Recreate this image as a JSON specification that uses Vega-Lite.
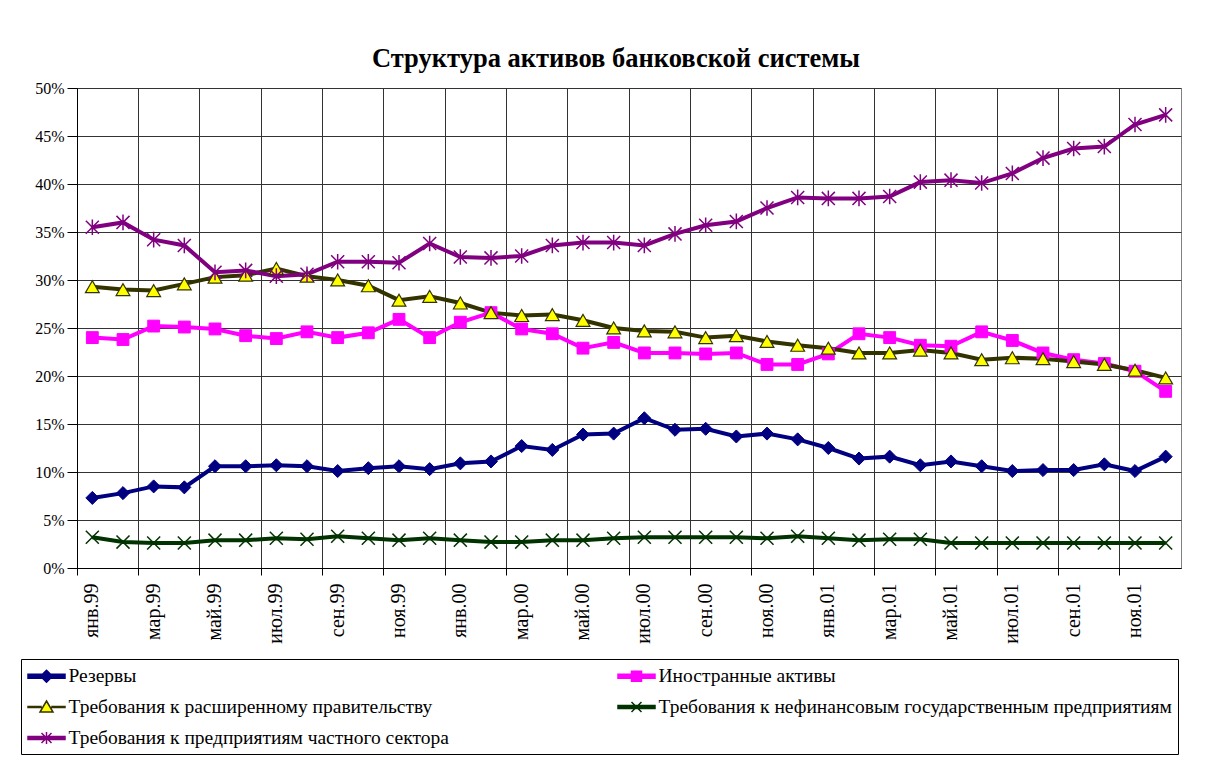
{
  "$schema": "https://vega.github.io/schema/vega-lite/v6.json",
  "width": 1104,
  "height": 480,
  "padding": {"left": 20, "top": 45, "right": 10, "bottom": 5},
  "background": "white",
  "title": {
    "text": "Структура активов банковской системы",
    "font": "Liberation Serif",
    "fontSize": 26.5,
    "fontWeight": "bold",
    "color": "black",
    "anchor": "middle",
    "frame": "group",
    "baseline": "top",
    "offset": 8,
    "dx": -13
  },
  "data": {
    "values": [
      {"m": "янв.99", "Резервы": 0.073, "Иностранные активы": 0.240, "Требования к расширенному правительству": 0.293, "Требования к нефинансовым государственным предприятиям": 0.032, "Требования к предприятиям частного сектора": 0.355},
      {"m": "фев.99", "Резервы": 0.078, "Иностранные активы": 0.238, "Требования к расширенному правительству": 0.290, "Требования к нефинансовым государственным предприятиям": 0.027, "Требования к предприятиям частного сектора": 0.360},
      {"m": "мар.99", "Резервы": 0.085, "Иностранные активы": 0.252, "Требования к расширенному правительству": 0.289, "Требования к нефинансовым государственным предприятиям": 0.026, "Требования к предприятиям частного сектора": 0.342},
      {"m": "апр.99", "Резервы": 0.084, "Иностранные активы": 0.251, "Требования к расширенному правительству": 0.296, "Требования к нефинансовым государственным предприятиям": 0.026, "Требования к предприятиям частного сектора": 0.336},
      {"m": "май.99", "Резервы": 0.106, "Иностранные активы": 0.249, "Требования к расширенному правительству": 0.303, "Требования к нефинансовым государственным предприятиям": 0.029, "Требования к предприятиям частного сектора": 0.308},
      {"m": "июн.99", "Резервы": 0.106, "Иностранные активы": 0.242, "Требования к расширенному правительству": 0.305, "Требования к нефинансовым государственным предприятиям": 0.029, "Требования к предприятиям частного сектора": 0.310},
      {"m": "июл.99", "Резервы": 0.107, "Иностранные активы": 0.239, "Требования к расширенному правительству": 0.312, "Требования к нефинансовым государственным предприятиям": 0.031, "Требования к предприятиям частного сектора": 0.304},
      {"m": "авг.99", "Резервы": 0.106, "Иностранные активы": 0.246, "Требования к расширенному правительству": 0.304, "Требования к нефинансовым государственным предприятиям": 0.030, "Требования к предприятиям частного сектора": 0.306},
      {"m": "сен.99", "Резервы": 0.101, "Иностранные активы": 0.240, "Требования к расширенному правительству": 0.300, "Требования к нефинансовым государственным предприятиям": 0.033, "Требования к предприятиям частного сектора": 0.319},
      {"m": "окт.99", "Резервы": 0.104, "Иностранные активы": 0.245, "Требования к расширенному правительству": 0.294, "Требования к нефинансовым государственным предприятиям": 0.031, "Требования к предприятиям частного сектора": 0.319},
      {"m": "ноя.99", "Резервы": 0.106, "Иностранные активы": 0.259, "Требования к расширенному правительству": 0.279, "Требования к нефинансовым государственным предприятиям": 0.029, "Требования к предприятиям частного сектора": 0.318},
      {"m": "дек.99", "Резервы": 0.103, "Иностранные активы": 0.240, "Требования к расширенному правительству": 0.283, "Требования к нефинансовым государственным предприятиям": 0.031, "Требования к предприятиям частного сектора": 0.338},
      {"m": "янв.00", "Резервы": 0.109, "Иностранные активы": 0.256, "Требования к расширенному правительству": 0.276, "Требования к нефинансовым государственным предприятиям": 0.029, "Требования к предприятиям частного сектора": 0.324},
      {"m": "фев.00", "Резервы": 0.111, "Иностранные активы": 0.266, "Требования к расширенному правительству": 0.266, "Требования к нефинансовым государственным предприятиям": 0.027, "Требования к предприятиям частного сектора": 0.323},
      {"m": "мар.00", "Резервы": 0.127, "Иностранные активы": 0.249, "Требования к расширенному правительству": 0.263, "Требования к нефинансовым государственным предприятиям": 0.027, "Требования к предприятиям частного сектора": 0.325},
      {"m": "апр.00", "Резервы": 0.123, "Иностранные активы": 0.244, "Требования к расширенному правительству": 0.264, "Требования к нефинансовым государственным предприятиям": 0.029, "Требования к предприятиям частного сектора": 0.336},
      {"m": "май.00", "Резервы": 0.139, "Иностранные активы": 0.229, "Требования к расширенному правительству": 0.258, "Требования к нефинансовым государственным предприятиям": 0.029, "Требования к предприятиям частного сектора": 0.339},
      {"m": "июн.00", "Резервы": 0.140, "Иностранные активы": 0.235, "Требования к расширенному правительству": 0.250, "Требования к нефинансовым государственным предприятиям": 0.031, "Требования к предприятиям частного сектора": 0.339},
      {"m": "июл.00", "Резервы": 0.156, "Иностранные активы": 0.224, "Требования к расширенному правительству": 0.247, "Требования к нефинансовым государственным предприятиям": 0.032, "Требования к предприятиям частного сектора": 0.336},
      {"m": "авг.00", "Резервы": 0.144, "Иностранные активы": 0.224, "Требования к расширенному правительству": 0.246, "Требования к нефинансовым государственным предприятиям": 0.032, "Требования к предприятиям частного сектора": 0.348},
      {"m": "сен.00", "Резервы": 0.145, "Иностранные активы": 0.223, "Требования к расширенному правительству": 0.240, "Требования к нефинансовым государственным предприятиям": 0.032, "Требования к предприятиям частного сектора": 0.357},
      {"m": "окт.00", "Резервы": 0.137, "Иностранные активы": 0.224, "Требования к расширенному правительству": 0.242, "Требования к нефинансовым государственным предприятиям": 0.032, "Требования к предприятиям частного сектора": 0.361},
      {"m": "ноя.00", "Резервы": 0.140, "Иностранные активы": 0.212, "Требования к расширенному правительству": 0.236, "Требования к нефинансовым государственным предприятиям": 0.031, "Требования к предприятиям частного сектора": 0.375},
      {"m": "дек.00", "Резервы": 0.134, "Иностранные активы": 0.212, "Требования к расширенному правительству": 0.232, "Требования к нефинансовым государственным предприятиям": 0.033, "Требования к предприятиям частного сектора": 0.386},
      {"m": "янв.01", "Резервы": 0.125, "Иностранные активы": 0.223, "Требования к расширенному правительству": 0.229, "Требования к нефинансовым государственным предприятиям": 0.031, "Требования к предприятиям частного сектора": 0.385},
      {"m": "фев.01", "Резервы": 0.114, "Иностранные активы": 0.244, "Требования к расширенному правительству": 0.224, "Требования к нефинансовым государственным предприятиям": 0.029, "Требования к предприятиям частного сектора": 0.385},
      {"m": "мар.01", "Резервы": 0.116, "Иностранные активы": 0.240, "Требования к расширенному правительству": 0.224, "Требования к нефинансовым государственным предприятиям": 0.030, "Требования к предприятиям частного сектора": 0.387},
      {"m": "апр.01", "Резервы": 0.107, "Иностранные активы": 0.232, "Требования к расширенному правительству": 0.227, "Требования к нефинансовым государственным предприятиям": 0.030, "Требования к предприятиям частного сектора": 0.402},
      {"m": "май.01", "Резервы": 0.111, "Иностранные активы": 0.231, "Требования к расширенному правительству": 0.224, "Требования к нефинансовым государственным предприятиям": 0.026, "Требования к предприятиям частного сектора": 0.404},
      {"m": "июн.01", "Резервы": 0.106, "Иностранные активы": 0.246, "Требования к расширенному правительству": 0.217, "Требования к нефинансовым государственным предприятиям": 0.026, "Требования к предприятиям частного сектора": 0.401},
      {"m": "июл.01", "Резервы": 0.101, "Иностранные активы": 0.237, "Требования к расширенному правительству": 0.219, "Требования к нефинансовым государственным предприятиям": 0.026, "Требования к предприятиям частного сектора": 0.411},
      {"m": "авг.01", "Резервы": 0.102, "Иностранные активы": 0.224, "Требования к расширенному правительству": 0.218, "Требования к нефинансовым государственным предприятиям": 0.026, "Требования к предприятиям частного сектора": 0.427},
      {"m": "сен.01", "Резервы": 0.102, "Иностранные активы": 0.217, "Требования к расширенному правительству": 0.215, "Требования к нефинансовым государственным предприятиям": 0.026, "Требования к предприятиям частного сектора": 0.437},
      {"m": "окт.01", "Резервы": 0.108, "Иностранные активы": 0.213, "Требования к расширенному правительству": 0.212, "Требования к нефинансовым государственным предприятиям": 0.026, "Требования к предприятиям частного сектора": 0.439},
      {"m": "ноя.01", "Резервы": 0.101, "Иностранные активы": 0.205, "Требования к расширенному правительству": 0.206, "Требования к нефинансовым государственным предприятиям": 0.026, "Требования к предприятиям частного сектора": 0.462},
      {"m": "дек.01", "Резервы": 0.116, "Иностранные активы": 0.184, "Требования к расширенному правительству": 0.198, "Требования к нефинансовым государственным предприятиям": 0.026, "Требования к предприятиям частного сектора": 0.472}
    ]
  },
  "transform": [
    {"fold": ["Резервы", "Иностранные активы", "Требования к расширенному правительству", "Требования к нефинансовым государственным предприятиям", "Требования к предприятиям частного сектора"], "as": ["series", "v"]}
  ],
  "encoding": {
    "x": {
      "field": "m",
      "type": "ordinal",
      "sort": null,
      "scale": {"type": "band", "paddingInner": 0, "paddingOuter": 0},
      "axis": {
        "title": null,
        "values": ["янв.99", "мар.99", "май.99", "июл.99", "сен.99", "ноя.99", "янв.00", "мар.00", "май.00", "июл.00", "сен.00", "ноя.00", "янв.01", "мар.01", "май.01", "июл.01", "сен.01", "ноя.01"],
        "bandPosition": 0,
        "labelAngle": 270,
        "labelFont": "Liberation Serif",
        "labelFontSize": 20,
        "labelColor": "black",
        "labelPadding": 8,
        "tickSize": 7,
        "tickColor": "black",
        "domainColor": "black",
        "grid": true,
        "gridColor": "#333333",
        "gridOpacity": 1
      }
    },
    "y": {
      "field": "v",
      "type": "quantitative",
      "scale": {"domain": [0, 0.5], "nice": false, "zero": true},
      "axis": {
        "title": null,
        "values": [0, 0.05, 0.1, 0.15, 0.2, 0.25, 0.3, 0.35, 0.4, 0.45, 0.5],
        "format": ".0%",
        "labelFont": "Liberation Serif",
        "labelFontSize": 16,
        "labelColor": "black",
        "labelPadding": 3,
        "tickSize": 10,
        "tickColor": "black",
        "domainColor": "black",
        "grid": true,
        "gridColor": "#333333",
        "gridOpacity": 1
      }
    }
  },
  "layer": [
    {
      "mark": {"type": "line", "strokeWidth": 4},
      "encoding": {
        "stroke": {
          "field": "series",
          "type": "nominal",
          "scale": {
            "domain": ["Резервы", "Иностранные активы", "Требования к расширенному правительству", "Требования к нефинансовым государственным предприятиям", "Требования к предприятиям частного сектора"],
            "range": ["#000080", "#FF00FF", "#333300", "#003300", "#800080"]
          },
          "legend": {"orient": "none", "legendX": -56, "legendY": 571, "direction": "horizontal", "columns": 2, "title": null, "strokeColor": "black", "fillColor": "white", "padding": 6, "labelFont": "Liberation Serif", "labelFontSize": 19.5, "labelColor": "black", "labelLimit": 0, "symbolSize": 400, "symbolOffset": 8.5, "symbolStrokeWidth": 1.5, "symbolOpacity": 1, "labelOffset": 11, "rowPadding": 10, "columnPadding": 166}
        }
      }
    },
    {
      "transform": [{"filter": {"field": "series", "equal": "Резервы"}}],
      "mark": {"type": "point", "shape": "diamond", "filled": true, "size": 170, "fill": "#000080", "stroke": "#000080", "strokeWidth": 1, "opacity": 1},
      "encoding": {}
    },
    {
      "transform": [{"filter": {"field": "series", "equal": "Иностранные активы"}}],
      "mark": {"type": "point", "shape": "square", "filled": true, "size": 140, "fill": "#FF00FF", "stroke": "#FF00FF", "strokeWidth": 1, "opacity": 1},
      "encoding": {}
    },
    {
      "transform": [{"filter": {"field": "series", "equal": "Требования к расширенному правительству"}}],
      "mark": {"type": "point", "shape": "triangle-up", "filled": true, "size": 190, "fill": "#FFFF00", "stroke": "#333300", "strokeWidth": 1.2, "opacity": 1},
      "encoding": {}
    },
    {
      "transform": [{"filter": {"field": "series", "equal": "Требования к нефинансовым государственным предприятиям"}}],
      "mark": {"type": "point", "shape": "M-1,-1L1,1M-1,1L1,-1", "filled": false, "size": 170, "stroke": "#003300", "strokeWidth": 1.5, "opacity": 1},
      "encoding": {}
    },
    {
      "transform": [{"filter": {"field": "series", "equal": "Требования к предприятиям частного сектора"}}],
      "mark": {"type": "point", "shape": "M-1,-1L1,1M-1,1L1,-1M0,-1.2L0,1.2", "filled": false, "size": 170, "stroke": "#800080", "strokeWidth": 1.5, "opacity": 1},
      "encoding": {}
    },
    {
      "transform": [{"filter": "datum.v < 0"}],
      "mark": {"type": "point", "filled": true, "strokeWidth": 1.5, "opacity": 1},
      "encoding": {
        "shape": {
          "field": "series",
          "type": "nominal",
          "scale": {
            "domain": ["Резервы", "Иностранные активы", "Требования к расширенному правительству", "Требования к нефинансовым государственным предприятиям", "Требования к предприятиям частного сектора"],
            "range": ["M-1.85,-0.2H1.85V0.2H-1.85Z M0,-0.6L0.6,0L0,0.6L-0.6,0Z", "M-1.85,-0.2H1.85V0.2H-1.85Z M-0.5,-0.5H0.5V0.5H-0.5Z", "M-1.85,-0.05H-0.55V0.05H-1.85Z M0.55,-0.05H1.85V0.05H0.55Z M0,-0.6L0.65,0.5L-0.65,0.5Z", "M-1.85,-0.15H1.85V0.15H-1.85Z M-0.5,-0.5L0.5,0.5M-0.5,0.5L0.5,-0.5", "M-1.85,-0.15H1.85V0.15H-1.85Z M-0.5,-0.5L0.5,0.5M-0.5,0.5L0.5,-0.5M0,-0.6V0.6"]
          },
          "legend": {"orient": "none", "legendX": -56, "legendY": 571, "direction": "horizontal", "columns": 2, "title": null, "strokeColor": "black", "fillColor": "white", "padding": 6, "labelFont": "Liberation Serif", "labelFontSize": 19.5, "labelColor": "black", "labelLimit": 0, "symbolSize": 400, "symbolOffset": 8.5, "symbolStrokeWidth": 1.5, "symbolOpacity": 1, "labelOffset": 11, "rowPadding": 10, "columnPadding": 166}
        },
        "stroke": {
          "field": "series",
          "type": "nominal",
          "scale": {
            "domain": ["Резервы", "Иностранные активы", "Требования к расширенному правительству", "Требования к нефинансовым государственным предприятиям", "Требования к предприятиям частного сектора"],
            "range": ["#000080", "#FF00FF", "#333300", "#003300", "#800080"]
          },
          "legend": {"orient": "none", "legendX": -56, "legendY": 571, "direction": "horizontal", "columns": 2, "title": null, "strokeColor": "black", "fillColor": "white", "padding": 6, "labelFont": "Liberation Serif", "labelFontSize": 19.5, "labelColor": "black", "labelLimit": 0, "symbolSize": 400, "symbolOffset": 8.5, "symbolStrokeWidth": 1.5, "symbolOpacity": 1, "labelOffset": 11, "rowPadding": 10, "columnPadding": 166}
        },
        "fill": {
          "field": "series",
          "type": "nominal",
          "scale": {
            "domain": ["Резервы", "Иностранные активы", "Требования к расширенному правительству", "Требования к нефинансовым государственным предприятиям", "Требования к предприятиям частного сектора"],
            "range": ["#000080", "#FF00FF", "#FFFF00", "#003300", "#800080"]
          },
          "legend": {"orient": "none", "legendX": -56, "legendY": 571, "direction": "horizontal", "columns": 2, "title": null, "strokeColor": "black", "fillColor": "white", "padding": 6, "labelFont": "Liberation Serif", "labelFontSize": 19.5, "labelColor": "black", "labelLimit": 0, "symbolSize": 400, "symbolOffset": 8.5, "symbolStrokeWidth": 1.5, "symbolOpacity": 1, "labelOffset": 11, "rowPadding": 10, "columnPadding": 166}
        }
      }
    }
  ],
  "config": {
    "view": {"stroke": "#808080", "strokeWidth": 1},
    "font": "Liberation Serif",
    "legend": {
      "labelFont": "Liberation Serif",
      "labelFontSize": 19.5,
      "labelColor": "black",
      "labelLimit": 0,
      "symbolSize": 400,
      "symbolStrokeWidth": 1.5,
      "symbolOpacity": 1
    }
  }
}
